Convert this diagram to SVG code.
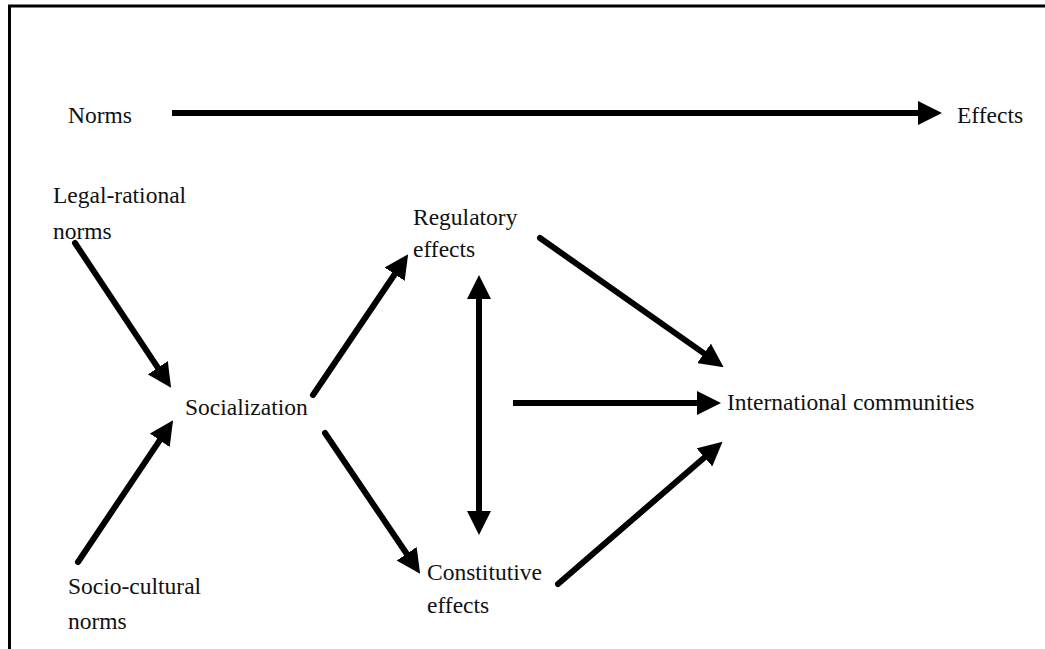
<svg xmlns="http://www.w3.org/2000/svg" width="1045" height="649" viewBox="0 0 1045 649">
<style>
.t{font-family:'Liberation Serif','Times New Roman',serif;font-size:23.5px;fill:#111}
.c{stroke:#000;stroke-width:6;fill:none;stroke-linecap:round}
</style>
<defs>
<marker id="ah" markerUnits="userSpaceOnUse" markerWidth="24" markerHeight="24" refX="0" refY="11" orient="auto-start-reverse" viewBox="0 0 22 22">
<path d="M0,0 L22,11 L0,22 Z" fill="#000"/>
</marker>
</defs>
<rect width="1045" height="649" fill="#fff"/>
<g id="frame">
<line x1="8" y1="6" x2="1045" y2="6" stroke="#000" stroke-width="3"/>
<line x1="9.5" y1="5" x2="9.5" y2="649" stroke="#000" stroke-width="3"/>
</g>
<g id="connectors">
<line class="c" x1="172" y1="113" x2="918" y2="113" marker-end="url(#ah)" style="stroke-linecap:butt"/>
<line class="c" x1="75" y1="243" x2="157.8" y2="367.7" marker-end="url(#ah)"/>
<line class="c" x1="78" y1="562" x2="159.7" y2="440.3" marker-end="url(#ah)"/>
<line class="c" x1="313" y1="395" x2="394.7" y2="274.2" marker-end="url(#ah)"/>
<line class="c" x1="325" y1="433" x2="406.7" y2="553.8" marker-end="url(#ah)"/>
<line class="c" x1="479" y1="299" x2="479" y2="511" marker-start="url(#ah)" marker-end="url(#ah)" style="stroke-linecap:butt"/>
<line class="c" x1="513" y1="403" x2="697" y2="403" marker-end="url(#ah)" style="stroke-linecap:butt"/>
<line class="c" x1="540" y1="238" x2="704" y2="353.4" marker-end="url(#ah)"/>
<line class="c" x1="558" y1="584" x2="704.4" y2="457.4" marker-end="url(#ah)"/>
</g>
<g id="norms"><text class="t" x="68" y="123">Norms</text></g>
<g id="effects"><text class="t" x="957" y="123">Effects</text></g>
<g id="legal-rational"><text class="t" x="53" y="203">Legal-rational</text><text class="t" x="53" y="239">norms</text></g>
<g id="socio-cultural"><text class="t" x="68" y="594">Socio-cultural</text><text class="t" x="68" y="629">norms</text></g>
<g id="socialization"><text class="t" x="185" y="415">Socialization</text></g>
<g id="regulatory"><text class="t" x="413" y="225">Regulatory</text><text class="t" x="413" y="257">effects</text></g>
<g id="constitutive"><text class="t" x="427" y="580">Constitutive</text><text class="t" x="427" y="613">effects</text></g>
<g id="international"><text class="t" x="727" y="410">International communities</text></g>
</svg>
